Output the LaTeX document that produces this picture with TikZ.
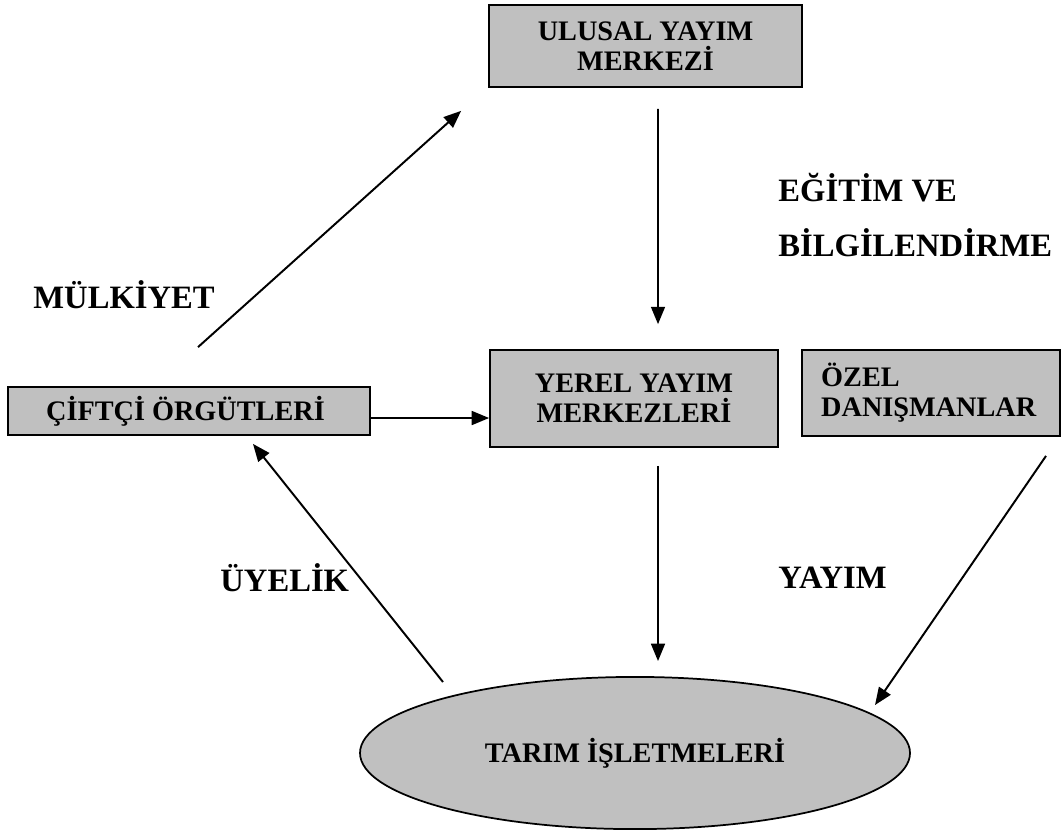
\documentclass[tikz,border=0pt]{standalone}
\usepackage{fontspec}
\setmainfont{Liberation Serif}
\usepackage{tikz}
\usetikzlibrary{
	arrows.meta,
	calc,
	shapes.geometric
}

\definecolor{boxgray}{RGB}{192,192,192}

\begin{document}
\begin{tikzpicture} [
		x = 0.46pt,
		y = -0.46pt,
		block/.style = {
			rectangle,
			draw,
			thick,
			fill = boxgray,
			align = center,
			inner sep = 0pt,
			font = \fontsize{13}{13.8}\selectfont\bfseries,
		},
		farm/.style = {
			ellipse,
			draw,
			thick,
			fill = boxgray,
			inner sep = 0pt,
			minimum width = 253pt,
			minimum height = 70pt,
			font = \fontsize{13}{13.8}\selectfont\bfseries,
		},
		line/.style = {
			draw,
			line width = 0.9pt,
			-{Triangle[length = 8pt, width = 6.4pt]},
		},
		caption/.style = {
			anchor = west,
			inner sep = 0pt,
			font = \fontsize{15}{18}\selectfont\bfseries,
		}
	]
	\useasboundingbox (0,0) rectangle (1061,838);

	\node[block, minimum width = 144pt, minimum height = 37.7pt] (ulusal) at (645.5,46) {
		ULUSAL YAYIM\\MERKEZİ
	};

	\node[block, minimum width = 132.5pt, minimum height = 44.6pt] (yerel) at (634,398.5) {
		YEREL YAYIM\\MERKEZLERİ
	};
	\node[block, minimum width = 118.7pt, minimum height = 39.6pt,
		align = left, text width = 101pt, inner xsep = 8.9pt] (ozel) at (931,393) {
		ÖZEL\\DANIŞMANLAR
	};
	\node[block, minimum width = 166.5pt, minimum height = 22.1pt] (ciftci) at (189,411) {
		ÇİFTÇİ ÖRGÜTLERİ
	};

	\node[farm] (tarim) at (635,753) {
		TARIM İŞLETMELERİ
	};

	% labels
	\node[caption] (egitim) at (778,188) {EĞİTİM VE};
	\node[caption] (bilgi) at (778,243) {BİLGİLENDİRME};
	\node[caption] (mulk) at (33,295) {MÜLKİYET};
	\node[caption] (uye) at (220,578) {ÜYELİK};
	\node[caption] (yayim) at (778,578) {YAYIM};

	\begin{scope} [
			every path/.style = line
		]
		\path ($(ciftci.north)+(9,-39)$) -- ($(ulusal.south west)+(-27,23)$);
		\path ($(ulusal.south)+(12.5,21)$) -- ($(yerel.north)+(24,-25)$);
		\path ($(ciftci.east)+(0,7)$) -- ($(yerel.west)+(0,19.5)$);
		\path ($(yerel.south)+(24,18)$) -- ($(tarim.north)+(23,-15)$);
		\path ($(tarim.center)+(-192,-71)$) -- ($(ciftci.south)+(64,8)$);
		\path ($(ozel.south east)+(-15,19)$) -- ($(tarim.center)+(240,-48)$);
	\end{scope}
\end{tikzpicture}
\end{document}
